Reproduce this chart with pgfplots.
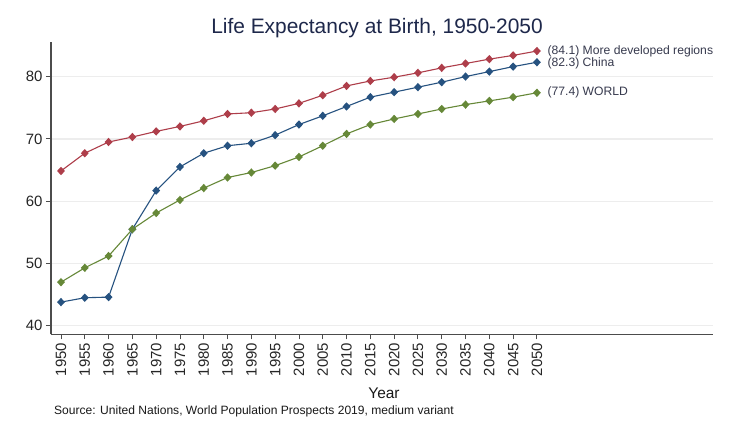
\documentclass[border=0pt]{standalone}
\usepackage{pgfplots}
\pgfplotsset{compat=1.18}
\usepackage{fontspec}
\setmainfont{Liberation Sans}
\definecolor{cred}{RGB}{174,62,74}
\definecolor{cblue}{RGB}{38,82,128}
\definecolor{cgreen}{RGB}{102,136,56}
\definecolor{ctitle}{RGB}{30,40,75}
\definecolor{clab}{RGB}{55,58,78}
\begin{document}
\begin{tikzpicture}
\path[use as bounding box, fill=white] (0,0) rectangle (729bp,437bp);
\begin{axis}[
  at={(51bp,102.5bp)}, anchor=south west,
  scale only axis, width=662bp, height=292.8bp,
  xmin=1947.9, xmax=2087, ymin=38.6, ymax=85.6,
  axis x line*=bottom, axis y line*=left,
  axis line style={-, draw=black!70, line width=1.1bp},
  xtick={1950,1955,...,2050}, ytick={40,50,...,80},
  tick align=outside, major tick length=5bp,
  tick style={black!70, line width=0.9bp},
  xticklabel style={rotate=90, anchor=east, font=\fontsize{15}{15}\selectfont, text=black!85},
  yticklabel style={font=\fontsize{15}{15}\selectfont, text=black!85},
  /pgf/number format/assume math mode=true,
  /pgf/number format/1000 sep={},
  ymajorgrids, grid style={black!7, line width=1.3bp},
  clip=false,
  every axis plot/.append style={line width=1.1bp, mark=diamond*, mark size=3.4pt, mark options={xscale=1.25, solid}},
]
\addplot[cred] coordinates {
(1950,64.85) (1955,67.7) (1960,69.5) (1965,70.3) (1970,71.2) (1975,72.0) (1980,72.9)
(1985,74.0) (1990,74.2) (1995,74.8) (2000,75.7) (2005,77.0) (2010,78.5) (2015,79.3)
(2020,79.9) (2025,80.6) (2030,81.4) (2035,82.1) (2040,82.8) (2045,83.4) (2050,84.1)};
\addplot[cblue] coordinates {
(1950,43.8) (1955,44.5) (1960,44.6) (1965,55.5) (1970,61.7) (1975,65.5) (1980,67.7)
(1985,68.9) (1990,69.3) (1995,70.6) (2000,72.3) (2005,73.7) (2010,75.2) (2015,76.7)
(2020,77.5) (2025,78.3) (2030,79.1) (2035,80.0) (2040,80.8) (2045,81.6) (2050,82.3)};
\addplot[cgreen] coordinates {
(1950,47.0) (1955,49.3) (1960,51.2) (1965,55.5) (1970,58.1) (1975,60.2) (1980,62.1)
(1985,63.8) (1990,64.6) (1995,65.7) (2000,67.1) (2005,68.9) (2010,70.8) (2015,72.3)
(2020,73.2) (2025,74.0) (2030,74.8) (2035,75.5) (2040,76.1) (2045,76.7) (2050,77.4)};
\node[anchor=west, text=clab, font=\fontsize{12.2}{12}\selectfont, inner sep=0pt] at (axis cs:2052.2,84.1) {(84.1) More developed regions};
\node[anchor=west, text=clab, font=\fontsize{12.2}{12}\selectfont, inner sep=0pt] at (axis cs:2052.2,82.2) {(82.3) China};
\node[anchor=west, text=clab, font=\fontsize{12.2}{12}\selectfont, inner sep=0pt] at (axis cs:2052.2,77.4) {(77.4) WORLD};
\end{axis}
\node[text=ctitle, font=\fontsize{21}{21}\selectfont, inner sep=0pt] at (377bp,409bp) {Life Expectancy at Birth, 1950-2050};
\node[text=black!90, font=\fontsize{15.5}{16}\selectfont, inner sep=0pt] at (384bp,44bp) {Year};
\node[anchor=west, text=black!90, font=\fontsize{12.1}{13}\selectfont, inner sep=0pt] at (54bp,26bp) {Source: United Nations, World Population Prospects 2019, medium variant};
\end{tikzpicture}
\end{document}
